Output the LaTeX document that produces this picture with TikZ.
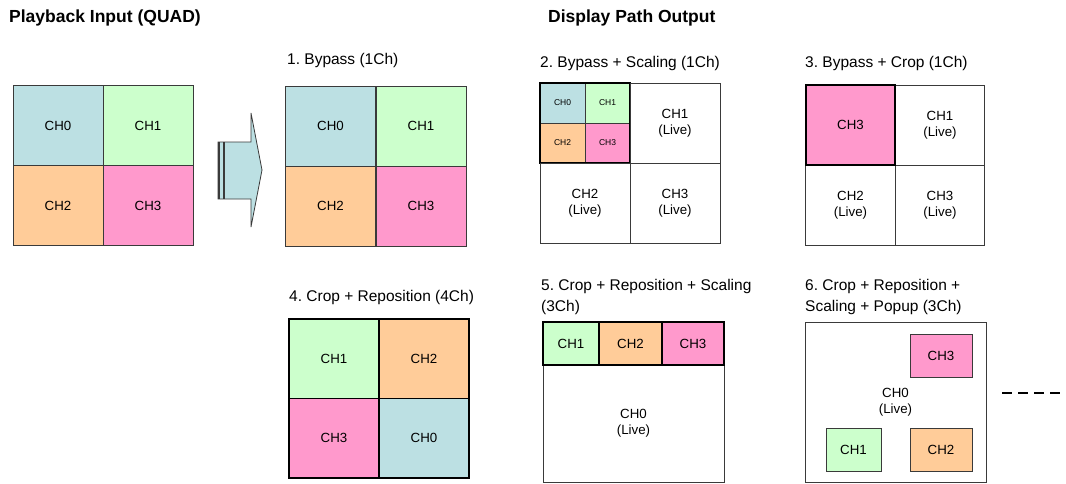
\documentclass[tikz,border=0pt]{standalone}
\usepackage{fontspec}
\setmainfont{Liberation Sans}
\frenchspacing
\usetikzlibrary{positioning}
\definecolor{chblue}{HTML}{BCE0E3}
\definecolor{chgreen}{HTML}{CCFFCC}
\definecolor{chpeach}{HTML}{FFCC99}
\definecolor{chpink}{HTML}{FF99CC}
\definecolor{chline}{HTML}{3A3A3A}

\begin{document}
\begin{tikzpicture}[x=1pt,y=-1pt,
  cell/.style={draw=chline,line width=1pt,minimum width=90pt,minimum height=80pt,
               inner sep=0pt,align=center,font=\fontsize{13.3}{16}\selectfont},
  hot/.style={draw=black,line width=1.7pt},
  mini/.style={cell,minimum width=45pt,minimum height=40pt,font=\fontsize{8.5}{10}\selectfont},
  pop/.style={cell,minimum height=43pt},
  hd/.style={anchor=west,inner sep=0pt,font=\fontsize{17.5}{20}\selectfont\bfseries},
  ttl/.style={anchor=west,inner sep=0pt,align=left,font=\fontsize{15.5}{21}\selectfont}]

\useasboundingbox (0,0) rectangle (1066,483);

% headings
\node[hd] (hin) at (9,18) {Playback Input (QUAD)};
\node[hd] (hout) at (548,18) {Display Path Output};

% input quad
\foreach \c/\col/\dx/\dy in {0/chblue/0/0,1/chgreen/1/0,2/chpeach/0/1,3/chpink/1/1}
  \node[cell,fill=\col] (in\c) at (58+90*\dx,125.5+80*\dy) {CH\c};

% block arrow
\draw[draw=chline,fill=chblue,line width=0.8pt]
  (218,142) -- (251,142) -- (251,113) -- (262,170) -- (251,227) -- (251,199) -- (218,199) -- cycle;
\draw[chline,line width=2pt] (219.3,142) -- (219.3,199);
\draw[chline,line width=2pt] (223.8,142) -- (223.8,199);

% 1. bypass
\node[ttl] (t1) at (287,60) {1. Bypass (1Ch)};
\foreach \c/\col/\dx/\dy in {0/chblue/0/0,1/chgreen/1/0,2/chpeach/0/1,3/chpink/1/1}
  \node[cell,fill=\col] (bp\c) at (330.5+90.5*\dx,126+80*\dy) {CH\c};

% 2. bypass + scaling
\node[ttl] (t2) at (540,63) {2. Bypass + Scaling (1Ch)};
\foreach \c/\col/\dx/\dy in {0/chblue/0/0,1/chgreen/1/0,2/chpeach/0/1,3/chpink/1/1}
  \node[mini,fill=\col] (sc\c) at (562.5+45*\dx,103+40*\dy) {CH\c};
\draw[hot] (540,83) rectangle (630,163);
\node[cell] (sl1) at (675,123) {CH1\\(Live)};
\node[cell] (sl2) at (585,203) {CH2\\(Live)};
\node[cell] (sl3) at (675,203) {CH3\\(Live)};

% 3. bypass + crop
\node[ttl] (t3) at (805,63) {3. Bypass + Crop (1Ch)};
\node[cell,minimum width=89.5pt,fill=chpink,hot] (cr3) at (850.5,125) {CH3};
\node[cell,minimum width=89.5pt] (cl1) at (940,125) {CH1\\(Live)};
\node[cell,minimum width=89.5pt] (cl2) at (850.5,205) {CH2\\(Live)};
\node[cell,minimum width=89.5pt] (cl3) at (940,205) {CH3\\(Live)};
\draw[hot] (806,85) rectangle (895,165);

% 4. crop + reposition
\node[ttl] (t4) at (289,297) {4. Crop + Reposition (4Ch)};
\foreach \c/\col/\dx/\dy in {1/chgreen/0/0,2/chpeach/1/0,3/chpink/0/1,0/chblue/1/1}
  \node[cell,fill=\col,draw=black,line width=1.5pt,minimum height=79.5pt] (rp\c) at (334+90*\dx,358.5+79.5*\dy) {CH\c};

% 5. crop + reposition + scaling
\node[ttl] (t5) at (541,297) {5. Crop + Reposition + Scaling\\(3Ch)};
\node[cell,minimum width=181pt,minimum height=117pt] (rs0) at (633.5,423.5) {CH0\\(Live)};
\node[cell,hot,fill=chgreen,minimum width=56pt,minimum height=43pt] (rs1) at (571,343.5) {CH1};
\node[cell,hot,fill=chpeach,minimum width=63pt,minimum height=43pt] (rs2) at (630.5,343.5) {CH2};
\node[cell,hot,fill=chpink,minimum width=62pt,minimum height=43pt] (rs3) at (693,343.5) {CH3};

% 6. crop + reposition + scaling + popup
\node[ttl] (t6) at (805,297) {6. Crop + Reposition +\\Scaling + Popup (3Ch)};
\node[cell,minimum width=181pt,minimum height=160pt] (pp0) at (895.5,402) {CH0\\(Live)};
\node[pop,fill=chpink,minimum width=62pt] (pp3) at (941,355.5) {CH3};
\node[pop,fill=chgreen,minimum width=55pt] (pp1) at (853.5,449.5) {CH1};
\node[pop,fill=chpeach,minimum width=62pt] (pp2) at (941,449.5) {CH2};

% more modes
\coordinate (m1) at (1002,393);
\coordinate (m2) at (1066,393);
\draw[black,line width=2pt,dash pattern=on 10pt off 6pt] (m1) -- (m2);
\end{tikzpicture}
\end{document}
